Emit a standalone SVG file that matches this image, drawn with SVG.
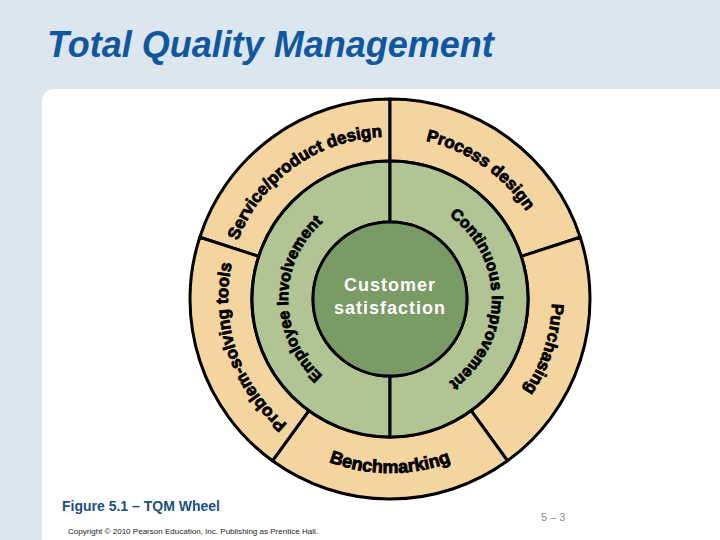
<svg xmlns="http://www.w3.org/2000/svg" width="720" height="540" viewBox="0 0 720 540">
  <defs>
    <style>
      .outer { fill: #F4D59F; stroke: #000; stroke-width: 3; stroke-linejoin: round; }
      .middle { fill: #B1C494; stroke: #000; stroke-width: 3; stroke-linejoin: round; }
      .core { fill: #7B9B66; stroke: #000; stroke-width: 3; }
      .lbl { font-family: "Liberation Sans", Arial, sans-serif; font-weight: bold; fill: #000; stroke: #000; stroke-width: 0.8; }
      .o { font-size: 17px; }
      .m { font-size: 16px; }
    </style>
    <path id="p-service" d="M227.6,285.4 A162,162 0 0 1 427.8,141.5"/>
    <path id="p-process" d="M348.1,142.5 A162,162 0 0 1 551.4,284.9"/>
    <path id="p-purch" d="M527.4,213.2 A162,162 0 0 1 450.7,449.2"/>
    <path id="p-prob" d="M331.9,450.2 A162,162 0 0 1 251.1,215.6"/>
    <path id="p-bench" d="M239.3,386 A174,174 0 0 0 540.7,386"/>
    <path id="p-emp" d="M363.6,397.5 A102,102 0 0 1 363.6,200.5"/>
    <path id="p-cont" d="M416.4,200.5 A102,102 0 0 1 416.4,397.5"/>
  </defs>

  <rect x="0" y="0" width="720" height="540" fill="#DCE6EF"/>
  <path d="M42,101 A12,12 0 0 1 54,89 L720,89 L720,540 L42,540 Z" fill="#FFFFFF"/>

  <text x="47" y="57" font-family="Liberation Sans, Arial, sans-serif" font-size="36" font-weight="bold" font-style="italic" fill="#11579D">Total Quality Management</text>

  <g id="service-product-design">
    <path class="outer" d="M199.79,237.2 A200,200 0 0 1 390,99 L390,161 A138,138 0 0 0 258.75,256.36 Z"/>
    <text class="lbl o"><textPath href="#p-service" startOffset="50%" text-anchor="middle">Service/product design</textPath></text>
  </g>
  <g id="process-design">
    <path class="outer" d="M390,99 A200,200 0 0 1 580.21,237.2 L521.25,256.36 A138,138 0 0 0 390,161 Z"/>
    <text class="lbl o"><textPath href="#p-process" startOffset="50%" text-anchor="middle">Process design</textPath></text>
  </g>
  <g id="purchasing">
    <path class="outer" d="M580.21,237.2 A200,200 0 0 1 507.56,460.8 L471.11,410.64 A138,138 0 0 0 521.25,256.36 Z"/>
    <text class="lbl o"><textPath href="#p-purch" startOffset="50%" text-anchor="middle">Purchasing</textPath></text>
  </g>
  <g id="benchmarking">
    <path class="outer" d="M507.56,460.8 A200,200 0 0 1 272.44,460.8 L308.89,410.64 A138,138 0 0 0 471.11,410.64 Z"/>
    <text class="lbl o" style="font-size:18px"><textPath href="#p-bench" startOffset="50%" text-anchor="middle">Benchmarking</textPath></text>
  </g>
  <g id="problem-solving-tools">
    <path class="outer" d="M272.44,460.8 A200,200 0 0 1 199.79,237.2 L258.75,256.36 A138,138 0 0 0 308.89,410.64 Z"/>
    <text class="lbl o"><textPath href="#p-prob" startOffset="50%" text-anchor="middle">Problem-solving tools</textPath></text>
  </g>

  <g id="employee-involvement">
    <path class="middle" d="M390,437 A138,138 0 0 1 390,161 L390,222 A77,77 0 0 0 390,376 Z"/>
    <text class="lbl m"><textPath href="#p-emp" startOffset="50%" text-anchor="middle">Employee Involvement</textPath></text>
  </g>
  <g id="continuous-improvement">
    <path class="middle" d="M390,161 A138,138 0 0 1 390,437 L390,376 A77,77 0 0 0 390,222 Z"/>
    <text class="lbl m"><textPath href="#p-cont" startOffset="50%" text-anchor="middle">Continuous Improvement</textPath></text>
  </g>

  <g id="customer-satisfaction">
    <circle class="core" cx="390" cy="299" r="77"/>
    <text x="390" y="291" text-anchor="middle" font-family="Liberation Sans, Arial, sans-serif" font-size="18" font-weight="bold" letter-spacing="1" fill="#FFFFFF">Customer</text>
    <text x="390" y="314" text-anchor="middle" font-family="Liberation Sans, Arial, sans-serif" font-size="18" font-weight="bold" letter-spacing="1" fill="#FFFFFF">satisfaction</text>
  </g>

  <text x="62" y="511" font-family="Liberation Sans, Arial, sans-serif" font-size="14" font-weight="bold" fill="#1E4F80">Figure 5.1 – TQM Wheel</text>
  <text x="541" y="521" font-family="Liberation Sans, Arial, sans-serif" font-size="11" fill="#8C8C8C">5 – 3</text>
  <text x="68" y="534" font-family="Liberation Sans, Arial, sans-serif" font-size="8" fill="#222222" textLength="250" lengthAdjust="spacingAndGlyphs">Copyright © 2010 Pearson Education, Inc. Publishing as Prentice Hall.</text>
</svg>
